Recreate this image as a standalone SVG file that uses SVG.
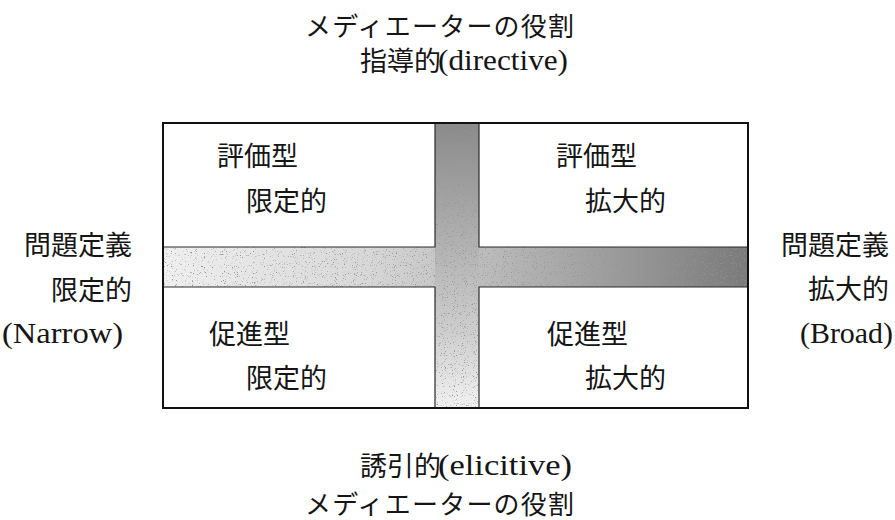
<svg xmlns="http://www.w3.org/2000/svg" width="895" height="520" viewBox="0 0 895 520">
  <style>
    .jp { font-family: "Noto Sans CJK JP", "Noto Sans", sans-serif; font-size: 27px; font-weight: 400; fill: #151515; }
    .jps { font-family: "Noto Sans CJK JP", "Noto Sans", sans-serif; font-size: 26px; font-weight: 400; fill: #151515; letter-spacing: 1.2px; }
    .lat { font-family: "Liberation Serif", "Times New Roman", serif; font-size: 30px; fill: #151515; }
    .edge { stroke: #2a2a2a; stroke-width: 1.2; fill: none; }
  </style>
  <defs>
    <linearGradient id="gh" x1="0" y1="0" x2="1" y2="0">
      <stop offset="0" stop-color="#f0f0f0"/>
      <stop offset="0.35" stop-color="#d8d8d8"/>
      <stop offset="0.55" stop-color="#bcbcbc"/>
      <stop offset="1" stop-color="#7a7a7a"/>
    </linearGradient>
    <linearGradient id="gv" x1="0" y1="0" x2="0" y2="1">
      <stop offset="0" stop-color="#8a8a8a"/>
      <stop offset="0.45" stop-color="#b4b4b4"/>
      <stop offset="0.75" stop-color="#d0d0d0"/>
      <stop offset="1" stop-color="#f2f2f2"/>
    </linearGradient>
    <filter id="grain" x="0" y="0" width="100%" height="100%">
      <feTurbulence type="fractalNoise" baseFrequency="0.9" numOctaves="2" seed="3" result="n"/>
      <feColorMatrix in="n" type="matrix" values="0 0 0 0 0.3  0 0 0 0 0.3  0 0 0 0 0.3  0 0 0 -6 2.3" result="d"/>
      <feComposite in="d" in2="SourceGraphic" operator="in" result="dm"/>
      <feMerge><feMergeNode in="SourceGraphic"/><feMergeNode in="dm"/></feMerge>
    </filter>
  </defs>

  <!-- gray cross -->
  <g id="cross" filter="url(#grain)">
    <rect x="163" y="247" width="585" height="40" fill="url(#gh)"/>
    <rect x="435" y="123" width="44" height="285" fill="url(#gv)"/>
  </g>

  <!-- quadrant edges along the cross -->
  <g id="edges">
    <path class="edge" d="M163 247 H435 V123"/>
    <path class="edge" d="M479 123 V247 H748"/>
    <path class="edge" d="M163 287 H435 V408"/>
    <path class="edge" d="M479 408 V287 H748"/>
  </g>

  <!-- outer box -->
  <rect id="frame" x="163" y="123" width="585" height="285" fill="none" stroke="#111" stroke-width="2"/>

  <g id="q-tl">
    <text class="jp" x="217" y="166">評価型</text>
    <text class="jp" x="246" y="211">限定的</text>
  </g>
  <g id="q-tr">
    <text class="jp" x="556" y="166">評価型</text>
    <text class="jp" x="585" y="211">拡大的</text>
  </g>
  <g id="q-bl">
    <text class="jp" x="209" y="344">促進型</text>
    <text class="jp" x="246" y="388">限定的</text>
  </g>
  <g id="q-br">
    <text class="jp" x="547" y="344">促進型</text>
    <text class="jp" x="585" y="388">拡大的</text>
  </g>

  <g id="top-label">
    <text class="jps" x="305" y="36">メディエーターの役割</text>
    <text class="jp" x="360" y="71">指導的</text>
    <text class="lat" x="438" y="70" textLength="130" lengthAdjust="spacingAndGlyphs">(directive)</text>
  </g>

  <g id="bottom-label">
    <text class="jp" x="360" y="476">誘引的</text>
    <text class="lat" x="438" y="475" textLength="134" lengthAdjust="spacingAndGlyphs">(elicitive)</text>
    <text class="jps" x="305" y="514">メディエーターの役割</text>
  </g>

  <g id="left-label">
    <text class="jp" x="132" y="255" text-anchor="end">問題定義</text>
    <text class="jp" x="132" y="300" text-anchor="end">限定的</text>
    <text class="lat" x="2" y="343" textLength="121" lengthAdjust="spacingAndGlyphs">(Narrow)</text>
  </g>

  <g id="right-label">
    <text class="jp" x="889" y="255" text-anchor="end">問題定義</text>
    <text class="jp" x="889" y="299" text-anchor="end">拡大的</text>
    <text class="lat" x="800" y="343" textLength="93" lengthAdjust="spacingAndGlyphs">(Broad)</text>
  </g>
</svg>
